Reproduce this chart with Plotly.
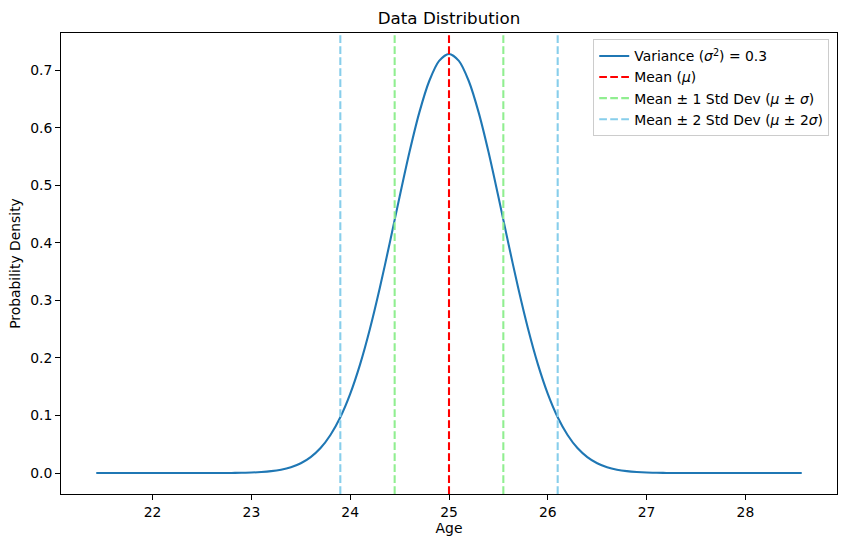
import plotly.graph_objects as go

# Curve values
age = [21.43, 22.0, 22.5, 22.8, 22.9,
       23.0, 23.1, 23.2, 23.3, 23.4, 23.5, 23.6, 23.7, 23.8, 23.9,
       24.0, 24.1, 24.2, 24.3, 24.4, 24.5, 24.6, 24.7, 24.8, 24.9,
       25.0,
       25.1, 25.2, 25.3, 25.4, 25.5, 25.6, 25.7, 25.8, 25.9, 26.0,
       26.1, 26.2, 26.3, 26.4, 26.5, 26.6, 26.7, 26.8, 26.9, 27.0,
       27.1, 27.2, 27.5, 28.0, 28.57]
density = [0.0, 0.0, 0.0, 0.0002, 0.0005,
           0.0009, 0.0018, 0.0033, 0.0059, 0.0102, 0.0171, 0.0278, 0.0435, 0.0661, 0.0970,
           0.1376, 0.1888, 0.2507, 0.3219, 0.3998, 0.4802, 0.5579, 0.6269, 0.6814, 0.7164,
           0.7284,
           0.7164, 0.6814, 0.6269, 0.5579, 0.4802, 0.3998, 0.3219, 0.2507, 0.1888, 0.1376,
           0.0970, 0.0661, 0.0435, 0.0278, 0.0171, 0.0102, 0.0059, 0.0033, 0.0018, 0.0009,
           0.0005, 0.0002, 0.0, 0.0, 0.0]

mean = 25.0
std1 = [24.45, 25.55]
std2 = [23.90, 26.10]
x_ticks = [22, 23, 24, 25, 26, 27, 28]
y_ticks = [0.0, 0.1, 0.2, 0.3, 0.4, 0.5, 0.6, 0.7]

FONT = "DejaVu Sans"
FS = 13.9
DASH = "7.7px,3.3px"
LW = 2.08

fig = go.Figure()
fig.add_trace(go.Scatter(
    x=age, y=density, mode="lines",
    line=dict(color="#1f77b4", width=LW, shape="spline", smoothing=0.8),
    name="Variance (<i>σ</i><sup>2</sup>) = 0.3",
))

def vline(xv, color, name, show):
    fig.add_shape(type="line", xref="x", yref="y domain",
                  x0=xv, x1=xv, y0=0, y1=1,
                  line=dict(color=color, width=LW, dash=DASH),
                  name=name, showlegend=show, legendgroup=name)

vline(mean, "red", "Mean (<i>μ</i>)", True)
for i, v in enumerate(std1):
    vline(v, "#90ee90", "Mean ± 1 Std Dev (<i>μ</i> ± <i>σ</i>)", i == 0)
for i, v in enumerate(std2):
    vline(v, "#87ceeb", "Mean ± 2 Std Dev (<i>μ</i> ± 2<i>σ</i>)", i == 0)

span_x = max(age) - min(age)
span_y = max(density) - min(density)

fig.update_layout(
    width=846, height=547,
    margin=dict(l=61, r=9, t=33, b=53),
    paper_bgcolor="white", plot_bgcolor="white",
    font=dict(family=FONT, size=FS, color="black"),
    title=dict(text="Data Distribution", x=0.5, xref="paper", xanchor="center",
               y=1 - 18 / 547, yanchor="middle", font=dict(size=16.7, color="black")),
    showlegend=True,
    legend=dict(x=0.99, y=0.986, xanchor="right", yanchor="top",
                bgcolor="rgba(255,255,255,0.8)", bordercolor="#cccccc", borderwidth=1,
                font=dict(size=FS, color="black"), tracegroupgap=0,
                itemwidth=30),
)
fig.update_xaxes(
    range=[min(age) - 0.05 * span_x, max(age) + 0.05 * span_x],
    tickvals=x_ticks, ticks="outside", ticklen=5, tickwidth=1, tickcolor="black",
    showline=True, linecolor="black", linewidth=1, mirror=True,
    showgrid=False, zeroline=False,
    title=dict(text="Age", standoff=4, font=dict(size=FS)),
    tickfont=dict(size=FS),
)
fig.update_yaxes(
    range=[min(density) - 0.05 * span_y, max(density) + 0.05 * span_y],
    tickvals=y_ticks, tickformat=".1f", ticks="outside", ticklen=5, tickwidth=1, tickcolor="black",
    showline=True, linecolor="black", linewidth=1, mirror=True,
    showgrid=False, zeroline=False,
    title=dict(text="Probability Density", standoff=6, font=dict(size=FS)),
    tickfont=dict(size=FS),
)

fig.write_html("out.html")
